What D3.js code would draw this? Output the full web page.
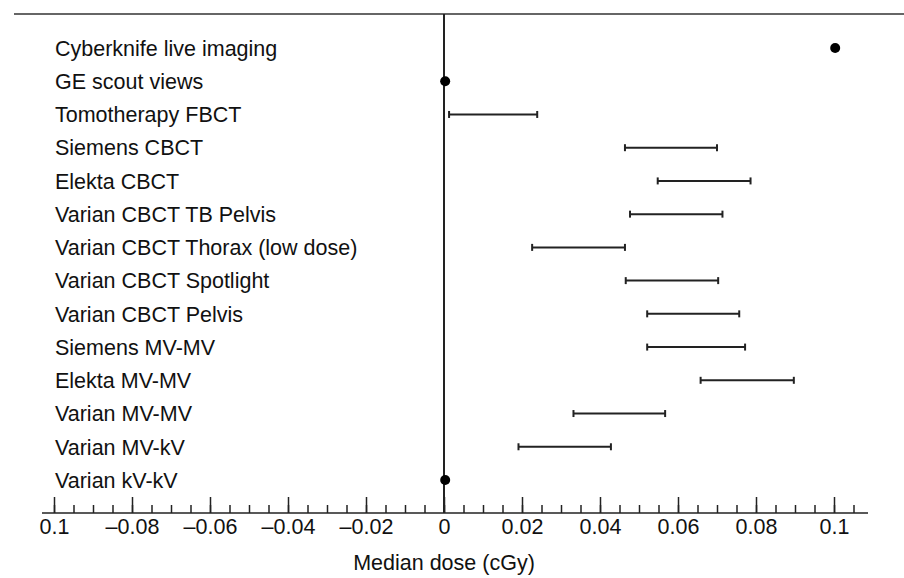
<!DOCTYPE html>
<html>
<head>
<meta charset="utf-8">
<script src="https://cdn.jsdelivr.net/npm/d3@7"></script>
<style>
  body { margin: 0; background: #fff; }
  text { font-family: "Liberation Sans", Arial, sans-serif; fill: #111; }
</style>
</head>
<body>
<svg id="chart" width="904" height="578"></svg>
<script>
// Imaging modalities, top to bottom
const categories = [
  'Cyberknife live imaging',
  'GE scout views',
  'Tomotherapy FBCT',
  'Siemens CBCT',
  'Elekta CBCT',
  'Varian CBCT TB Pelvis',
  'Varian CBCT Thorax (low dose)',
  'Varian CBCT Spotlight',
  'Varian CBCT Pelvis',
  'Siemens MV-MV',
  'Elekta MV-MV',
  'Varian MV-MV',
  'Varian MV-kV',
  'Varian kV-kV'
];

// range ends (cGy), null where only a single point is shown
const lowerValues = [null, null, 0.0013, 0.0464, 0.0548, 0.0477, 0.0226, 0.0466, 0.0521, 0.0521, 0.0658, 0.0332, 0.0191, null];
const upperValues = [null, null, 0.0239, 0.0700, 0.0786, 0.0714, 0.0464, 0.0703, 0.0757, 0.0772, 0.0897, 0.0567, 0.0428, null];
const pointValues = [0.1003, 0.0003, null, null, null, null, null, null, null, null, null, null, null, 0.0003];

// axis ticks
const majorTicks = [-0.1, -0.08, -0.06, -0.04, -0.02, 0, 0.02, 0.04, 0.06, 0.08, 0.1];
const tickLabels = ['0.1', '\u20130.08', '\u20130.06', '\u20130.04', '\u20130.02', '0', '0.02', '0.04', '0.06', '0.08', '0.1'];
const minorTicks = d3.range(-20, 22).map(i => i * 0.005);

const svg = d3.select('#chart');
const axisY = 513;

const x = d3.scaleLinear().domain([-0.1, 0.1]).range([54, 834]);
const y = d3.scalePoint().domain(categories).range([48, 480]);

// top border line
svg.append('line')
  .attr('x1', 14).attr('x2', 904)
  .attr('y1', 14).attr('y2', 14)
  .attr('stroke', '#333').attr('stroke-width', 1.6);

// zero reference line
svg.append('line')
  .attr('x1', x(0)).attr('x2', x(0))
  .attr('y1', 14).attr('y2', axisY)
  .attr('stroke', '#222').attr('stroke-width', 2);

// labels
svg.append('g')
  .selectAll('text')
  .data(categories)
  .enter()
  .append('text')
  .attr('x', 55)
  .attr('y', d => y(d))
  .attr('dy', '0.36em')
  .attr('font-size', 21.5)
  .text(d => d);

// range bars
const bars = categories.map((c, i) => ({ c, lo: lowerValues[i], hi: upperValues[i] }))
  .filter(d => d.lo !== null);

const barG = svg.append('g')
  .attr('stroke', '#222');

barG.selectAll('line.bar')
  .data(bars)
  .enter()
  .append('line')
  .attr('class', 'bar')
  .attr('x1', d => x(d.lo)).attr('x2', d => x(d.hi))
  .attr('y1', d => y(d.c)).attr('y2', d => y(d.c))
  .attr('stroke-width', 2);

barG.selectAll('line.cap')
  .data(bars.flatMap(d => [{ c: d.c, v: d.lo }, { c: d.c, v: d.hi }]))
  .enter()
  .append('line')
  .attr('class', 'cap')
  .attr('x1', d => x(d.v)).attr('x2', d => x(d.v))
  .attr('y1', d => y(d.c) - 3.5).attr('y2', d => y(d.c) + 3.5)
  .attr('stroke-width', 2);

// single points
svg.append('g')
  .selectAll('circle')
  .data(categories.map((c, i) => ({ c, v: pointValues[i] })).filter(d => d.v !== null))
  .enter()
  .append('circle')
  .attr('cx', d => x(d.v))
  .attr('cy', d => y(d.c))
  .attr('r', 5)
  .attr('fill', '#000');

// x axis
svg.append('line')
  .attr('x1', 42).attr('x2', 868)
  .attr('y1', axisY).attr('y2', axisY)
  .attr('stroke', '#222').attr('stroke-width', 1.5);

const minorAxis = svg.append('g')
  .attr('transform', `translate(0,${axisY})`)
  .call(d3.axisBottom(x).tickValues(minorTicks).tickSize(-8).tickSizeOuter(0).tickFormat(''));
minorAxis.select('.domain').remove();
minorAxis.selectAll('line').attr('stroke', '#222').attr('stroke-width', 1.5);

const majorAxis = svg.append('g')
  .attr('transform', `translate(0,${axisY})`)
  .call(d3.axisBottom(x)
    .tickValues(majorTicks)
    .tickSize(-16)
    .tickSizeOuter(0)
    .tickPadding(6)
    .tickFormat((d, i) => tickLabels[i]));
majorAxis.select('.domain').remove();
majorAxis.selectAll('line').attr('stroke', '#222').attr('stroke-width', 1.5);
majorAxis.selectAll('text')
  .attr('font-size', 21.5)
  .attr('fill', '#111')
  .style('font-family', '"Liberation Sans", Arial, sans-serif');

// axis title
svg.append('text')
  .attr('x', x(0))
  .attr('y', 570)
  .attr('text-anchor', 'middle')
  .attr('font-size', 21.5)
  .text('Median dose (cGy)');
</script>
</body>
</html>
